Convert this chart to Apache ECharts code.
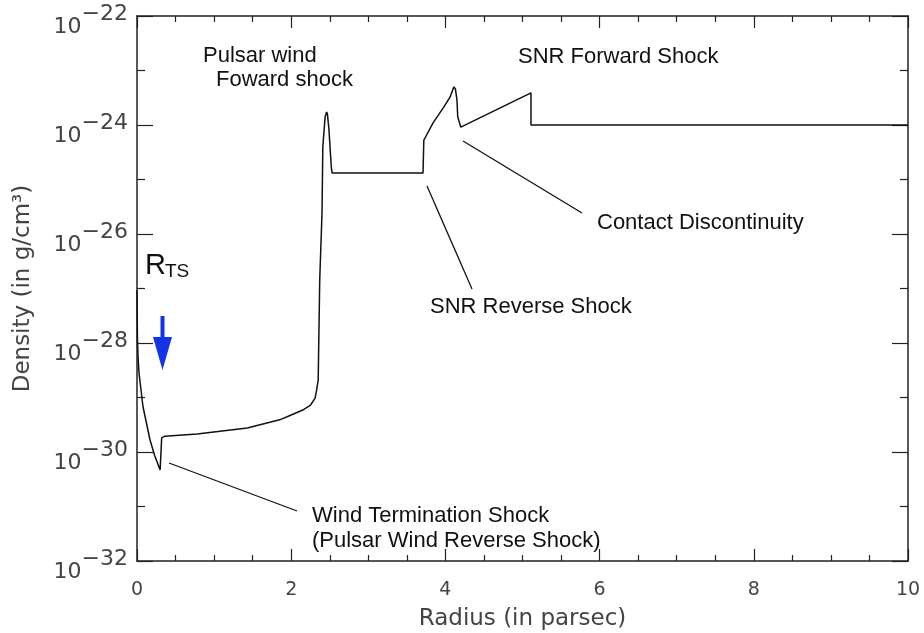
<!DOCTYPE html>
<html>
<head>
<meta charset="utf-8">
<script src="https://cdn.jsdelivr.net/npm/echarts@6/dist/echarts.min.js"></script>
<style>
  html, body { margin: 0; padding: 0; background: #fff; }
  #chart { width: 924px; height: 633px; }
</style>
</head>
<body>
<div id="chart"></div>
<script>
// Radius (parsec)
const radius = [0, 0.006, 0.015, 0.026, 0.078, 0.169, 0.23, 0.30, 0.32, 0.36, 0.78, 1.43, 1.85, 2.0, 2.15, 2.25, 2.31, 2.33, 2.35, 2.37, 2.40, 2.41, 2.44, 2.46, 2.47, 2.49, 2.52, 2.53, 3.71, 3.72, 3.84, 3.97, 4.06, 4.11, 4.13, 4.15, 4.16, 4.20, 5.11, 5.11, 10];
// log10 of density (g/cm^3)
const logDensity = [-27.03, -27.94, -28.30, -28.55, -29.17, -29.78, -30.07, -30.33, -29.74, -29.71, -29.67, -29.56, -29.41, -29.32, -29.23, -29.14, -29.01, -28.86, -28.68, -26.84, -25.60, -24.40, -23.85, -23.76, -23.80, -24.09, -24.77, -24.88, -24.88, -24.28, -23.96, -23.69, -23.49, -23.30, -23.34, -23.54, -23.85, -24.04, -23.41, -24.00, -24.00];
const xTicks = [0, 2, 4, 6, 8, 10];
const yExponents = [-32, -30, -28, -26, -24, -22];

const axisColor = '#222';
const labelColor = '#444';
const labelFont = 'DejaVu Sans';
const annFont = 'Liberation Sans';

const chart = echarts.init(document.getElementById('chart'), null, { renderer: 'canvas' });

function xAxisCfg(pos, showLabel) {
  return {
    type: 'value', position: pos, min: xTicks[0], max: xTicks[xTicks.length - 1], interval: 2,
    axisLine: { show: true, onZero: false, lineStyle: { color: axisColor, width: 1.5 } },
    axisTick: { show: true, inside: true, length: 12, lineStyle: { color: axisColor, width: 1.2 } },
    minorTick: { show: true, splitNumber: 4, length: 6, lineStyle: { color: axisColor, width: 1.2 } },
    splitLine: { show: false },
    axisLabel: { show: showLabel, margin: 20, fontFamily: labelFont, fontSize: 19, color: labelColor },
    name: showLabel ? 'Radius (in parsec)' : '',
    nameLocation: 'middle', nameGap: 47,
    nameTextStyle: { fontFamily: labelFont, fontSize: 23, color: labelColor }
  };
}
function yAxisCfg(pos, showLabel) {
  return {
    type: 'value', position: pos, min: yExponents[0], max: yExponents[yExponents.length - 1], interval: 2,
    axisLine: { show: true, onZero: false, lineStyle: { color: axisColor, width: 1.5 } },
    axisTick: { show: true, inside: true, length: 16, lineStyle: { color: axisColor, width: 1.2 } },
    minorTick: { show: true, splitNumber: 2, length: 8, lineStyle: { color: axisColor, width: 1.2 } },
    splitLine: { show: false },
    axisLabel: {
      show: showLabel, margin: 9, padding: [10, 0, 0, 0],
      formatter: function (v) {
        return '{b|10}{e|\u2212' + Math.abs(Math.round(v)) + '}';
      },
      rich: {
        b: { fontFamily: labelFont, fontSize: 22, color: labelColor, lineHeight: 35, verticalAlign: 'bottom' },
        e: { fontFamily: labelFont, fontSize: 22, color: labelColor, lineHeight: 35, verticalAlign: 'top' }
      }
    },
    name: showLabel ? 'Density (in g/cm³)' : '',
    nameLocation: 'middle', nameGap: 102, nameRotate: 90,
    nameTextStyle: { fontFamily: labelFont, fontSize: 23, color: labelColor }
  };
}

const annStyle = { fontFamily: annFont, fontSize: 22, fill: '#111' };
function txt(x, y, s, extra) {
  return { type: 'text', x: x, y: y, style: Object.assign({ text: s, verticalAlign: 'middle', align: 'left' }, annStyle, extra || {}), z: 10 };
}
function seg(x1, y1, x2, y2) {
  return { type: 'line', shape: { x1: x1, y1: y1, x2: x2, y2: y2 }, style: { stroke: '#111', lineWidth: 1.3 }, z: 10 };
}

const option = {
  animation: false,
  backgroundColor: '#fff',
  grid: { left: 137, right: 16, top: 16, bottom: 72, containLabel: false, outerBoundsMode: 'none' },
  xAxis: [xAxisCfg('bottom', true), xAxisCfg('top', false)],
  yAxis: [yAxisCfg('left', true), yAxisCfg('right', false)],
  series: [{
    type: 'line',
    data: radius.map((r, i) => [r, logDensity[i]]),
    showSymbol: false,
    lineStyle: { color: '#111', width: 1.5 }
  }],
  graphic: [
    txt(203, 56, 'Pulsar wind'),
    txt(216, 80, 'Foward shock'),
    txt(518, 57, 'SNR Forward Shock'),
    txt(597, 223, 'Contact Discontinuity'),
    txt(430, 307, 'SNR Reverse Shock'),
    txt(312, 516, 'Wind Termination Shock'),
    txt(312, 541, '(Pulsar Wind Reverse Shock)'),
    txt(145, 266, 'R', { fontSize: 29 }),
    txt(165, 272, 'TS', { fontSize: 19 }),
    seg(169, 463, 297, 511),
    seg(427, 186, 472, 289),
    seg(463, 141, 582, 213),
    { type: 'rect', shape: { x: 160.5, y: 316, width: 4, height: 22 }, style: { fill: '#1533e6' }, z: 10 },
    { type: 'polygon', shape: { points: [[153, 337], [172, 337], [162.5, 370]] }, style: { fill: '#1533e6' }, z: 10 }
  ]
};
chart.setOption(option);
</script>
</body>
</html>
